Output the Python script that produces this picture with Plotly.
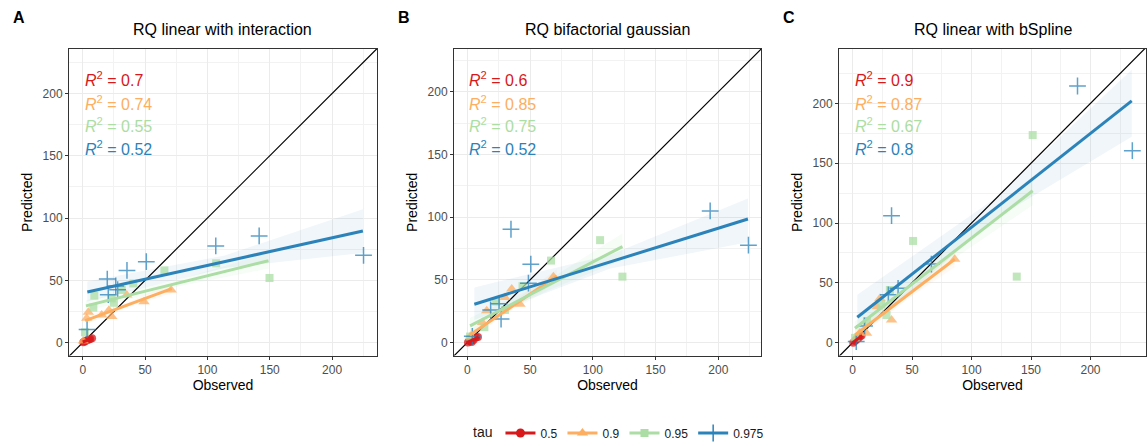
import plotly.graph_objects as go

# ---------------- data ----------------
TAUS = ["0.5", "0.9", "0.95", "0.975"]
COLORS = ["#d7191c", "#fdae61", "#abdda4", "#2b83ba"]
FILLS = ["rgba(215,25,28,0.08)", "rgba(253,174,97,0.08)", "rgba(171,221,164,0.10)", "rgba(43,131,186,0.07)"]
SYMBOLS = ["circle", "triangle-up", "square", "cross-thin"]

TITLES = ["RQ linear with interaction", "RQ bifactorial gaussian", "RQ linear with bSpline"]
LETTERS = ["A", "B", "C"]
R2 = [["0.7", "0.74", "0.55", "0.52"],
      ["0.6", "0.85", "0.75", "0.52"],
      ["0.9", "0.87", "0.67", "0.8"]]
TICKS = [0, 50, 100, 150, 200]
X_RANGES = [[-11, 236], [-10.6, 234], [-11.5, 246.7]]
Y_RANGES = [[-10.4, 235.7], [-10.4, 234.2], [-10.8, 245.4]]

# Panel A observed / predicted points per tau
A_obs = [[0.5, 1.5, 2.5, 3.5, 5, 6, 7.5],
         [0.5, 4.5, 3.2, 15.2, 23.3, 21, 35.3, 49.2, 70.9],
         [1.8, 8.5, 9.3, 23.3, 25, 31.3, 40.6, 65.5, 107, 149.8],
         [3.5, 19.7, 20.5, 26.5, 28, 35.5, 51, 106.7, 141.5, 225.2]]
A_pred = [[0.3, 1.0, 1.5, 2.0, 2.5, 3.0, 3.5],
          [1.4, 24.4, 19.6, 22.2, 20.9, 26, 38.3, 32.9, 42.3],
          [8.3, 28.1, 37.7, 35.6, 32, 42.3, 47.5, 58, 63.7, 51.9],
          [10.5, 51, 38.5, 45.5, 42.5, 58, 65, 77.6, 85.7, 70.1]]
# fitted lines (x start/mid/end, fit, lower, upper)
A_fit_x = [[0, 4, 8], [2, 36, 71.4], [2.6, 76, 149], [3.7, 114, 224.7]]
A_fit_y = [[0.5, 2.0, 3.5], [17.7, 30.5, 43.4], [29.5, 47.6, 65.8], [40.7, 65.1, 89.6]]
A_lo = [[0, 1.6, 2.8], [14.5, 28.5, 39.5], [25, 45, 59.5], [33, 60, 72]]
A_hi = [[1, 2.4, 4.2], [21, 32.5, 47.5], [34, 50.2, 72], [49, 70, 107]]

# Panel B
B_obs = [[0.5, 2, 3.5, 5, 7, 8.5],
         [2.5, 12, 15.5, 30, 35.4, 42, 68.6],
         [2.2, 13.6, 23, 30, 44, 66.7, 105.8, 123.6],
         [4, 18.6, 25.3, 26.9, 34.8, 48.7, 50.6, 193.5, 224]]
B_pred = [[0, 1, 0.5, 2, 4, 4.5],
          [5, 16, 25.3, 35.9, 42.8, 30.6, 52.6],
          [4.8, 12.3, 32.7, 26, 45, 65.4, 81.7, 52.6],
          [5, 26, 30.9, 18.7, 90.4, 47.4, 62.5, 105, 77.7]]
B_fit_x = [[0, 4.5, 9], [2, 36, 71.3], [2.2, 63, 123.6], [5.6, 114, 223.6]]
B_fit_y = [[0, 2.2, 4.5], [6, 29.6, 53.2], [13.3, 45, 76.6], [30.6, 64.6, 98.6]]
B_lo = [[-0.8, 1.8, 3.2], [2, 27, 48], [7, 41, 66], [18, 59, 80]]
B_hi = [[0.8, 2.6, 5.8], [10, 32, 58.5], [19.5, 49, 87], [44, 70, 115]]

# Panel C
C_obs = [[0.5, 2, 3, 4.5, 6, 7.5],
         [2, 6, 11.7, 20.6, 22.9, 32.7, 85.8],
         [2, 12, 24, 28.5, 31.3, 50.8, 138, 151.4],
         [3, 10, 30, 38.2, 66.2, 32.7, 189.1, 235.2]]
C_pred = [[0, 1.5, 2.5, 3.5, 5, 6],
          [3, 8, 7.8, 30, 37, 19, 69.7],
          [4, 18, 32, 23.1, 44, 85, 55.2, 173.5],
          [1, 14, 40, 45.4, 65.7, 106.1, 214.5, 160.4]]
C_fit_x = [[0, 4, 8], [2, 44, 85.8], [1.9, 76, 151.4], [3.9, 119, 234.7]]
C_fit_y = [[0, 3, 6], [6.4, 38, 69.7], [12, 69.5, 127], [21.2, 111.6, 202]]
C_lo = [[-1, 2.4, 4.5], [1.5, 35, 63], [6, 64, 115], [4, 103, 172]]
C_hi = [[1, 3.6, 7.5], [11, 41, 76.5], [18, 75, 139], [40, 120, 228]]

PANELS = [(A_obs, A_pred, A_fit_x, A_fit_y, A_lo, A_hi),
          (B_obs, B_pred, B_fit_x, B_fit_y, B_lo, B_hi),
          (C_obs, C_pred, C_fit_x, C_fit_y, C_lo, C_hi)]

# ---------------- layout geometry (pixels) ----------------
W, H = 1148, 446
X_DOM_PX = [(69, 377), (454, 761), (839, 1146)]
Y_DOM_PX = (49, 355.6)
FONT = "Liberation Sans, Arial, sans-serif"

fig = go.Figure()

for p, (obs, pred, fx, fy, lo, hi) in enumerate(PANELS):
    xa = "x" if p == 0 else f"x{p+1}"
    ya = "y" if p == 0 else f"y{p+1}"
    # ribbons
    for t in range(4):
        fig.add_trace(go.Scatter(
            x=fx[t] + fx[t][::-1], y=hi[t] + lo[t][::-1], fill="toself",
            fillcolor=FILLS[t], line=dict(width=0), mode="lines",
            hoverinfo="skip", showlegend=False, xaxis=xa, yaxis=ya))
    # identity line
    lim = [min(X_RANGES[p][0], Y_RANGES[p][0]) - 5, max(X_RANGES[p][1], Y_RANGES[p][1]) + 5]
    fig.add_trace(go.Scatter(x=lim, y=lim, mode="lines", line=dict(color="black", width=1.2),
                             showlegend=False, hoverinfo="skip", xaxis=xa, yaxis=ya))
    # points
    for t in range(4):
        mk = dict(color=COLORS[t], symbol=SYMBOLS[t], opacity=0.75,
                  size=[8, 10, 8, 12][t])
        if SYMBOLS[t] == "cross-thin":
            mk["line"] = dict(color=COLORS[t], width=1.5)
        fig.add_trace(go.Scatter(x=obs[t], y=pred[t], mode="markers", marker=mk,
                                 showlegend=False, xaxis=xa, yaxis=ya, cliponaxis=False))
    # fit lines
    for t in range(4):
        fig.add_trace(go.Scatter(x=[fx[t][0], fx[t][-1]], y=[fy[t][0], fy[t][-1]], mode="lines",
                                 line=dict(color=COLORS[t], width=3),
                                 showlegend=False, xaxis=xa, yaxis=ya))

# legend-only traces
for t in range(4):
    mk = dict(color=COLORS[t], symbol=SYMBOLS[t], size=[9, 10, 8, 12][t])
    if SYMBOLS[t] == "cross-thin":
        mk["line"] = dict(color=COLORS[t], width=1.5)
    fig.add_trace(go.Scatter(x=[None], y=[None], mode="lines+markers", name=TAUS[t],
                             line=dict(color=COLORS[t], width=3), marker=mk,
                             showlegend=True, xaxis="x", yaxis="y"))

axis_common = dict(
    tickmode="array", tickvals=TICKS, ticks="outside", ticklen=3, tickcolor="#333333",
    tickfont=dict(family=FONT, size=12, color="#4d4d4d"),
    showgrid=True, gridcolor="#ebebeb", gridwidth=1.1,
    minor=dict(tickmode="array", tickvals=[25, 75, 125, 175, 225], showgrid=True,
               gridcolor="#f2f2f2", gridwidth=0.6, ticks=""),
    showline=True, mirror=True, linecolor="#333333", linewidth=1,
    zeroline=False, automargin=False,
)

layout = dict(width=W, height=H, margin=dict(l=0, r=0, t=0, b=0, autoexpand=False),
              plot_bgcolor="white", paper_bgcolor="white",
              font=dict(family=FONT, color="black"),
              showlegend=True,
              legend=dict(orientation="h", x=471 / W, xanchor="left", y=(H - 433) / H, yanchor="middle",
                          title=dict(text="tau", font=dict(size=14, family=FONT), side="left"),
                          font=dict(size=12, family=FONT, color="#1a1a1a"),
                          itemwidth=30, tracegroupgap=0))
annotations = []
for p in range(3):
    sfx = "" if p == 0 else str(p + 1)
    x0, x1 = X_DOM_PX[p]
    layout["xaxis" + sfx] = dict(axis_common, domain=[x0 / W, x1 / W], range=X_RANGES[p],
                                 anchor="y" + sfx,
                                 title=dict(text="Observed", font=dict(size=14, family=FONT), standoff=4))
    layout["yaxis" + sfx] = dict(axis_common, domain=[(H - Y_DOM_PX[1]) / H, (H - Y_DOM_PX[0]) / H],
                                 range=Y_RANGES[p], anchor="x" + sfx,
                                 title=dict(text="Predicted", font=dict(size=14, family=FONT), standoff=6))
    # panel title
    annotations.append(dict(text=TITLES[p], x=(x0 + x1) / 2 / W, y=(H - 30) / H, xref="paper", yref="paper",
                            xanchor="center", yanchor="middle", showarrow=False,
                            font=dict(size=16, family=FONT, color="black")))
    # panel letter
    annotations.append(dict(text="<b>" + LETTERS[p] + "</b>", x=(x0 - 58) / W, y=(H - 17) / H,
                            xref="paper", yref="paper", xanchor="left", yanchor="middle",
                            showarrow=False, font=dict(size=16, family=FONT, color="black")))
    # R2 labels
    for t in range(4):
        annotations.append(dict(text="<i>R</i><sup>2</sup> = " + R2[p][t], x=0, xref="x" + sfx,
                                y=[0.902, 0.825, 0.752, 0.678][t], yref="y" + sfx + " domain",
                                xanchor="left", yanchor="middle", showarrow=False,
                                font=dict(size=16, family=FONT, color=COLORS[t])))
layout["annotations"] = annotations
fig.update_layout(**layout)
fig.write_html("out.html", config={"displayModeBar": False},
               post_script="document.body.style.margin='0';document.body.style.overflow='hidden';")
